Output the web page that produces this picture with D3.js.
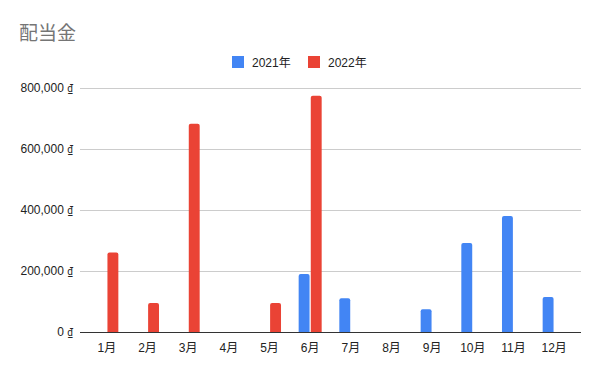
<!DOCTYPE html>
<html>
<head>
<meta charset="utf-8">
<script src="https://cdn.jsdelivr.net/npm/d3@7"></script>
<style>
  body { margin: 0; background: #fff; }
  text { font-family: 'Liberation Sans', Arial, 'Noto Sans CJK JP', sans-serif; }
  .dong { font-family: Roboto, 'DejaVu Sans', sans-serif; font-size: 10px; }
</style>
</head>
<body>
<div id="chart"></div>
<script>
const months = ['1月', '2月', '3月', '4月', '5月', '6月', '7月', '8月', '9月', '10月', '11月', '12月']
const seriesNames = ['2021年', '2022年']
const values2021 = [0, 0, 0, 0, 0, 190000, 111000, 0, 75000, 292000, 380000, 115000]
const values2022 = [261000, 95000, 683000, 0, 95000, 775000, 0, 0, 0, 0, 0, 0]
const yTicks = [0, 200000, 400000, 600000, 800000]
const colors = ['#4285f4', '#ea4335']

const width = 600
const height = 371
const margins = {top: 88, right: 19, bottom: 39, left: 80}
const plotW = width - margins.left - margins.right
const plotH = height - margins.top - margins.bottom

const svg = d3.select('#chart')
  .append('svg')
  .attr('width', width)
  .attr('height', height)

svg.append('text')
  .attr('x', 19)
  .attr('y', 40)
  .attr('font-size', 19)
  .style('fill', '#757575')
  .text('配当金')

// legend
const legendX = [232, 308]
seriesNames.forEach((name, i) => {
  const g = svg.append('g').attr('transform', `translate(${legendX[i]}, 56)`)
  g.append('rect').attr('width', 12).attr('height', 12).attr('fill', colors[i])
  g.append('text')
    .attr('x', 20)
    .attr('y', 10.5)
    .attr('font-size', 12)
    .style('fill', '#222')
    .text(name)
})

const plot = svg.append('g')
  .attr('transform', `translate(${margins.left}, ${margins.top})`)

const xScale = d3.scaleBand()
  .domain(months)
  .range([0, plotW])
  .paddingInner(0.434)
  .paddingOuter(0.377)

const xInner = d3.scaleBand()
  .domain(seriesNames)
  .range([0, xScale.bandwidth()])
  .paddingInner(0.1)

const yScale = d3.scaleLinear()
  .domain([0, 800000])
  .range([plotH, 0])

// gridlines
plot.append('g')
  .selectAll('line')
  .data(yTicks.filter(t => t > 0))
  .enter()
  .append('line')
  .attr('x1', 0)
  .attr('x2', plotW)
  .attr('y1', d => Math.round(yScale(d)) + 0.5)
  .attr('y2', d => Math.round(yScale(d)) + 0.5)
  .attr('stroke', '#cccccc')

const yAxis = d3.axisLeft(yScale)
  .tickValues(yTicks)
  .tickSize(0)
  .tickPadding(7)
  .tickFormat(d => d3.format(',')(d) + ' ')

const yAxisG = plot.append('g')
  .call(yAxis)
  .call(g => g.select('.domain').remove())

yAxisG.selectAll('text')
  .attr('font-size', 12)
  .style('fill', '#222')
  .append('tspan')
  .attr('class', 'dong')
  .text('₫')

const rows = months.map((m, i) => ({month: m, vals: [values2021[i], values2022[i]]}))

const barPath = (x, y, w, h, r) => {
  if (h <= 0) return ''
  r = Math.min(r, h, w / 2)
  return `M${x},${y + h}V${y + r}Q${x},${y} ${x + r},${y}H${x + w - r}Q${x + w},${y} ${x + w},${y + r}V${y + h}Z`
}

plot.selectAll('g.month')
  .data(rows)
  .enter()
  .append('g')
  .attr('class', 'month')
  .attr('transform', d => `translate(${xScale(d.month)}, 0)`)
  .selectAll('path')
  .data(d => d.vals.map((v, i) => ({series: seriesNames[i], value: v, i})))
  .enter()
  .append('path')
  .attr('fill', d => colors[d.i])
  .attr('d', d => barPath(xInner(d.series), yScale(d.value), xInner.bandwidth(), plotH - yScale(d.value), 2))

// baseline
plot.append('line')
  .attr('x1', 0)
  .attr('x2', plotW)
  .attr('y1', plotH + 0.5)
  .attr('y2', plotH + 0.5)
  .attr('stroke', '#333')

const xAxis = d3.axisBottom(xScale).tickSize(0).tickPadding(11)
plot.append('g')
  .attr('transform', `translate(0, ${plotH})`)
  .call(xAxis)
  .call(g => g.select('.domain').remove())
  .selectAll('text')
  .attr('font-size', 12)
  .style('fill', '#222')
</script>
</body>
</html>
